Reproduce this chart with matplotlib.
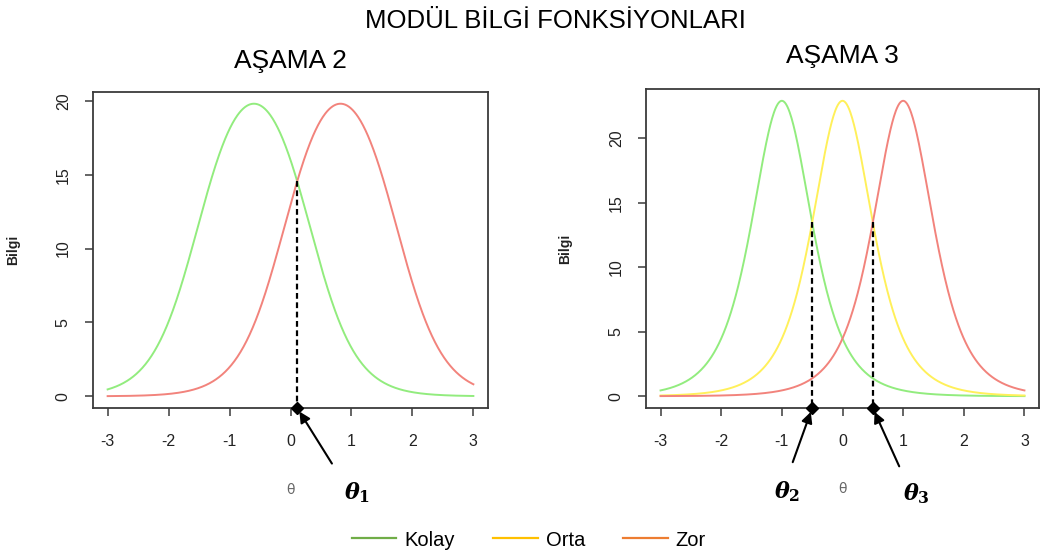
import numpy as np
import matplotlib.pyplot as plt

plt.rcParams['font.family'] = ['Liberation Sans', 'DejaVu Sans']
plt.rcParams['mathtext.fontset'] = 'custom'
plt.rcParams['mathtext.it'] = 'DejaVu Serif:italic:bold'
plt.rcParams['mathtext.rm'] = 'DejaVu Serif:bold'

# modül konumları ve en yüksek bilgi değerleri
stage2_names = ['Kolay', 'Zor']
stage2_center = [-0.6, 0.82]
stage2_peak = [19.8, 19.8]

stage3_names = ['Kolay', 'Orta', 'Zor']
stage3_center = [-1.0, 0.0, 1.0]
stage3_peak = [22.9, 22.9, 22.9]

# modüldeki maddelerin güçlük sapmaları ve eğimleri (D*a)
stage2_b_offsets = [-0.8, -0.6, -0.4, -0.2, 0.0, 0.2, 0.4, 0.6, 0.8]
stage2_slopes = [2.6]
stage3_b_offsets = [0.0]
stage3_slopes = [3.35, 3.35, 3.35, 3.35, 3.35, 2.0, 2.0, 2.0, 2.0]

legend_names = ['Kolay', 'Orta', 'Zor']
legend_colors = ['#70AD47', '#FFC000', '#ED7D31']
curve_colors = {'Kolay': '#92EC7E', 'Orta': '#FFF05A', 'Zor': '#F2837C'}

theta = np.linspace(-3, 3, 601)


def module_info(center, peak, offsets, slopes):
    info = np.zeros_like(theta)
    for off in offsets:
        for k in slopes:
            p = 1.0 / (1.0 + np.exp(-k * (theta - center - off)))
            info += k ** 2 * p * (1 - p)
    return peak * info / info.max()


def crossing(y1, y2, lo, hi):
    mask = (theta > lo) & (theta < hi)
    i = np.argmin(np.abs(y1 - y2) + np.where(mask, 0, 1e9))
    return theta[i], (y1[i] + y2[i]) / 2


def style_axes(ax, ymax, yticks):
    ax.set_xlim(-3.24, 3.24)
    ax.set_ylim(-0.04 * ymax, 1.04 * ymax)
    ax.set_xticks([-3, -2, -1, 0, 1, 2, 3])
    ax.set_xticklabels(['-3', '-2', '-1', '0', '1', '2', '3'])
    ax.set_yticks(yticks)
    ax.set_yticklabels([str(t) for t in yticks], rotation=90, va='center')
    for s in ax.spines.values():
        s.set_color('#3a3a3a')
        s.set_linewidth(1.3)
    ax.tick_params(axis='both', direction='out', length=6, width=1.1,
                   color='#3a3a3a', labelsize=11.5, labelcolor='#222222')
    ax.tick_params(axis='x', pad=13)
    ax.tick_params(axis='y', pad=10)
    ax.set_ylabel('Bilgi', fontsize=10, color='#222222', fontweight='bold')
    ax.set_xlabel('θ', fontsize=10, color='#666666', family='DejaVu Sans')


def mark_cut(ax, x, y, tail, label_off, label):
    ybot = ax.get_ylim()[0]
    ax.plot([x, x], [y, ybot], color='black', lw=1.6, ls=(0, (2.6, 1.6)))
    ax.plot([x], [ybot], marker='D', color='black', ms=6, clip_on=False, zorder=5)
    ax.annotate('', xy=(x, ybot), xycoords='data',
                xytext=tail, textcoords='offset points',
                arrowprops=dict(arrowstyle='-|>', color='black', lw=1.5,
                                mutation_scale=16, shrinkA=0, shrinkB=3),
                annotation_clip=False)
    ax.annotate(label, xy=(x, ybot), xycoords='data',
                xytext=label_off, textcoords='offset points',
                ha='center', va='center', fontsize=16, annotation_clip=False)


fig = plt.figure(figsize=(10.41, 5.56), dpi=100)
ax1 = fig.add_axes([93 / 1041, 1 - 408 / 556, 395 / 1041, 316 / 556])
ax2 = fig.add_axes([646 / 1041, 1 - 408 / 556, 393 / 1041, 319 / 556])

# Aşama 2
curves2 = []
for name, c, pk in zip(stage2_names, stage2_center, stage2_peak):
    y = module_info(c, pk, stage2_b_offsets, stage2_slopes)
    curves2.append(y)
    ax1.plot(theta, y, color=curve_colors[name], lw=1.4)
style_axes(ax1, max(stage2_peak), [0, 5, 10, 15, 20])
ax1.yaxis.set_label_coords(-0.185, 0.5)
ax1.xaxis.set_label_coords(0.5, -0.237)
ax1.set_title('AŞAMA 2', fontsize=19, pad=17)
x1, v1 = crossing(curves2[0], curves2[1], stage2_center[0], stage2_center[1])
mark_cut(ax1, x1, v1, (25, -40), (43, -61), r'$\theta_{\mathrm{1}}$')

# Aşama 3
curves3 = []
for name, c, pk in zip(stage3_names, stage3_center, stage3_peak):
    y = module_info(c, pk, stage3_b_offsets, stage3_slopes)
    curves3.append(y)
    ax2.plot(theta, y, color=curve_colors[name], lw=1.4)
style_axes(ax2, max(stage3_peak), [0, 5, 10, 15, 20])
ax2.yaxis.set_label_coords(-0.189, 0.5)
ax2.xaxis.set_label_coords(0.5, -0.233)
ax2.set_title('AŞAMA 3', fontsize=19, pad=19)
x2, v2 = crossing(curves3[0], curves3[1], stage3_center[0], stage3_center[1])
x3, v3 = crossing(curves3[1], curves3[2], stage3_center[1], stage3_center[2])
mark_cut(ax2, x2, v2, (-14, -39), (-18, -60), r'$\theta_{\mathrm{2}}$')
mark_cut(ax2, x3, v3, (19, -42), (31, -62), r'$\theta_{\mathrm{3}}$')

fig.text(555 / 1041, 1 - 28.5 / 556, 'MODÜL BİLGİ FONKSİYONLARI',
         ha='center', va='baseline', fontsize=18.5)

handles = [plt.Line2D([], [], color=c, lw=1.6) for c in legend_colors]
fig.legend(handles, legend_names, loc='center', bbox_to_anchor=(529 / 1041, 1 - 540 / 556),
           ncol=3, frameon=False, fontsize=14.5, handlelength=2.2,
           handletextpad=0.4, columnspacing=1.9)

fig.savefig('out.png', dpi=100)
